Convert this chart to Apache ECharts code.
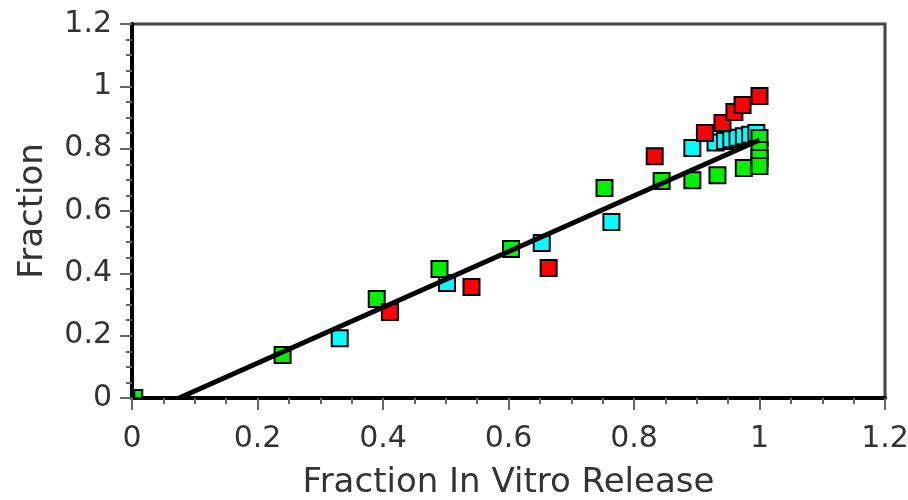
<!DOCTYPE html>
<html>
<head>
<meta charset="utf-8">
<script src="https://cdn.jsdelivr.net/npm/echarts@6/dist/echarts.min.js"></script>
<style>
  html, body { margin: 0; padding: 0; background: #fff; }
  #chart { width: 908px; height: 500px; }
</style>
</head>
<body>
<div id="chart"></div>
<script>
// values
const greenPoints = [
  [0.01, 0.013], [0.24, 0.138], [0.39, 0.318], [0.49, 0.414], [0.604, 0.478],
  [0.753, 0.674], [0.844, 0.696], [0.893, 0.699], [0.933, 0.715], [0.975, 0.738],
  [1.0, 0.834], [1.0, 0.796], [1.0, 0.77], [1.0, 0.744]
];
const redPoints = [
  [0.411, 0.276], [0.541, 0.356], [0.664, 0.417], [0.833, 0.776], [0.913, 0.85],
  [0.941, 0.882], [0.96, 0.918], [0.973, 0.94], [1.0, 0.969]
];
const cyanPoints = [
  [0.331, 0.192], [0.502, 0.369], [0.653, 0.497], [0.764, 0.565], [0.893, 0.802],
  [0.93, 0.82], [0.945, 0.825], [0.955, 0.83], [0.965, 0.835], [0.975, 0.84],
  [0.985, 0.845], [0.995, 0.85]
];
const fitLine = [[0.075, 0], [1.0, 0.828]];
const xTitle = "Fraction In Vitro Release";
const yTitle = "Fraction";

const chart = echarts.init(document.getElementById("chart"));

const font = "DejaVu Sans";

const axisCommon = {
  type: "value",
  min: 0,
  max: 1.2,
  interval: 0.2,
  splitLine: { show: false },
  axisLine: { lineStyle: { color: "#000", width: 4 } },
  axisTick: { length: 12, lineStyle: { color: "#666", width: 2 } },
  minorTick: { show: true, splitNumber: 4, length: 6, lineStyle: { color: "#666", width: 2 } },
  minorSplitLine: { show: false },
  nameLocation: "middle",
  nameTextStyle: { fontFamily: font, fontSize: 34, color: "#333" }
};

const squareStyle = (color) => ({
  color: color,
  opacity: 1,
  borderColor: "#000",
  borderWidth: 2
});

// the point at the origin is cut by the axes, so it shows smaller
const squareSize = (v) => (v[0] < 0.02 ? 8 : 16);

chart.setOption({
  animation: false,
  grid: {
    left: 132,
    right: 23,
    top: 24,
    bottom: 102,
    outerBoundsMode: "none",
    show: true,
    borderColor: "#444",
    borderWidth: 3
  },
  xAxis: Object.assign({}, axisCommon, {
    name: xTitle,
    nameGap: 68,
    axisLabel: { margin: 26, fontFamily: font, fontSize: 30, color: "#333" }
  }),
  yAxis: Object.assign({}, axisCommon, {
    name: yTitle,
    nameGap: 82,
    axisLabel: { margin: 20, fontFamily: font, fontSize: 30, color: "#333" }
  }),
  series: [
    {
      type: "scatter",
      symbol: "rect",
      symbolSize: squareSize,
      itemStyle: squareStyle("#00ffff"),
      data: cyanPoints
    },
    {
      type: "scatter",
      symbol: "rect",
      symbolSize: squareSize,
      itemStyle: squareStyle("#00f000"),
      data: greenPoints
    },
    {
      type: "line",
      symbol: "none",
      lineStyle: { color: "#000", width: 5 },
      data: fitLine
    },
    {
      type: "scatter",
      symbol: "rect",
      symbolSize: squareSize,
      itemStyle: squareStyle("#ff0000"),
      data: redPoints
    }
  ]
});
</script>
</body>
</html>
